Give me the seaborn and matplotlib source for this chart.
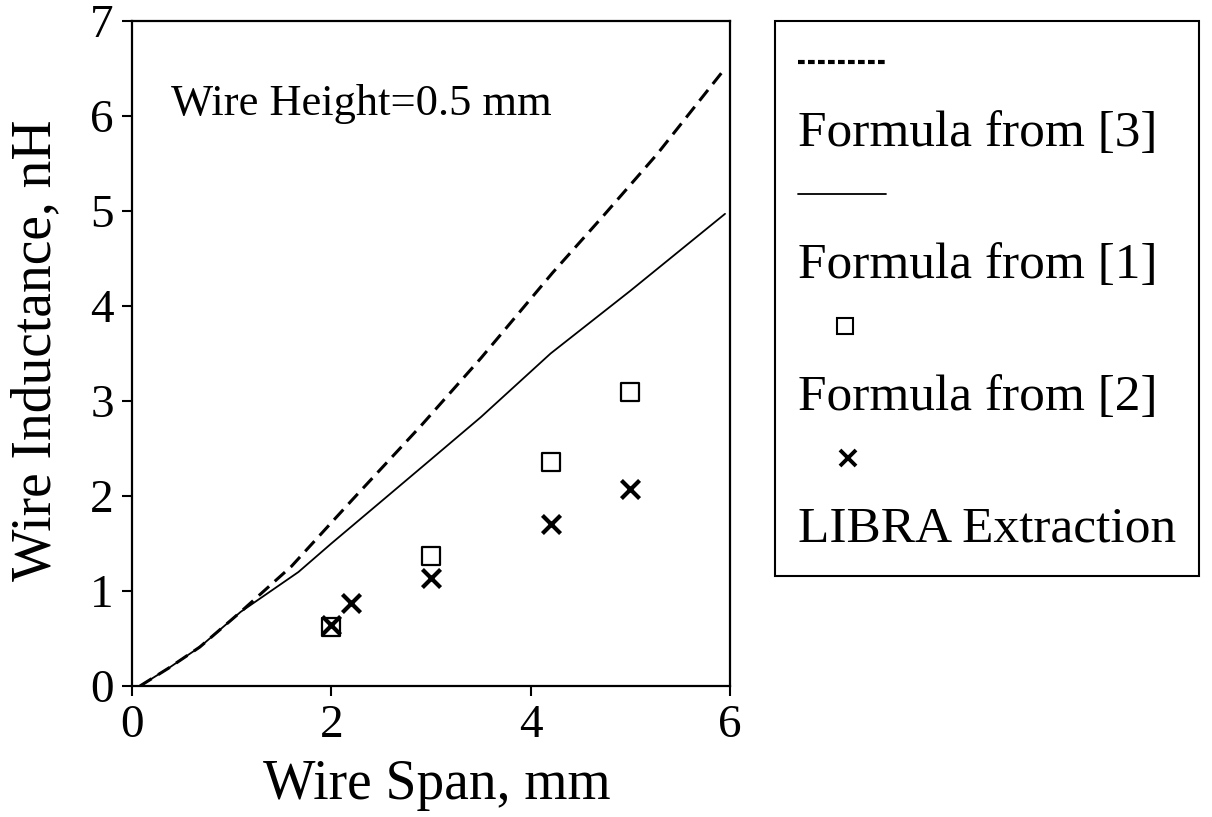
import numpy as np
import pandas as pd
import matplotlib
matplotlib.use("Agg")
import matplotlib.pyplot as plt
import seaborn as sns
from matplotlib.lines import Line2D
from matplotlib.legend_handler import HandlerBase
from matplotlib.font_manager import FontProperties

# ---------------- data ----------------
# Formula from [3] (dashed curve)
f3_span = [0.08, 0.37, 0.68, 1.09, 1.6, 2.21, 2.9, 3.5, 4.22, 4.73, 5.27, 5.95]
f3_ind = [0.0, 0.19, 0.41, 0.78, 1.26, 1.96, 2.74, 3.45, 4.35, 4.95, 5.6, 6.5]
# Formula from [1] (solid curve)
f1_span = [0.08, 0.37, 0.68, 1.09, 1.67, 2.0, 2.52, 2.96, 3.5, 4.2, 5.0, 5.95]
f1_ind = [0.0, 0.19, 0.41, 0.78, 1.2, 1.5, 1.96, 2.35, 2.83, 3.5, 4.16, 4.97]
# Formula from [2] (open squares)
f2_span = [2.0, 3.0, 4.2, 5.0]
f2_ind = [0.62, 1.37, 2.36, 3.09]
# LIBRA Extraction (x marks)
libra_span = [2.0, 2.2, 3.0, 4.2, 5.0]
libra_ind = [0.64, 0.87, 1.14, 1.71, 2.07]

legend_labels = ["Formula from [3]", "Formula from [1]", "Formula from [2]", "LIBRA Extraction"]
x_ticks = [0, 2, 4, 6]
y_ticks = [0, 1, 2, 3, 4, 5, 6, 7]
annotation = "Wire Height=0.5 mm"
x_label = "Wire Span, mm"
y_label = "Wire Inductance, nH"

# ---------------- style ----------------
sns.set_theme(style="ticks")
plt.rcParams["font.family"] = ["Liberation Serif", "DejaVu Serif"]
plt.rcParams["axes.edgecolor"] = "black"
plt.rcParams["xtick.color"] = "black"
plt.rcParams["ytick.color"] = "black"
plt.rcParams["text.color"] = "black"
plt.rcParams["axes.labelcolor"] = "black"

fig = plt.figure(figsize=(12.12, 8.17), dpi=100)
ax = fig.add_axes([132 / 1212, 1 - 686 / 817, (730 - 132) / 1212, (686 - 21) / 817])

df3 = pd.DataFrame({"span": f3_span, "ind": f3_ind})
df1 = pd.DataFrame({"span": f1_span, "ind": f1_ind})
df2 = pd.DataFrame({"span": f2_span, "ind": f2_ind})
dfl = pd.DataFrame({"span": libra_span, "ind": libra_ind})

sns.lineplot(data=df3, x="span", y="ind", ax=ax, color="black", linewidth=2.2,
             linestyle=(0, (4.5, 2.5)), sort=False, estimator=None)
sns.lineplot(data=df1, x="span", y="ind", ax=ax, color="black", linewidth=1.3,
             sort=False, estimator=None)
sns.scatterplot(data=df2, x="span", y="ind", ax=ax, marker="s", s=150,
                facecolor="white", edgecolor="black", linewidth=1.6, zorder=3)
sns.scatterplot(data=dfl, x="span", y="ind", ax=ax, marker="x", s=170,
                color="black", linewidth=3.0, zorder=4)

ax.set_xlim(0, 6)
ax.set_ylim(0, 7)
ax.set_xticks(x_ticks)
ax.set_yticks(y_ticks)
ax.tick_params(axis="both", direction="out", length=7, width=1.5, pad=6,
               labelsize=34, top=False, right=False)
for sp in ax.spines.values():
    sp.set_linewidth(1.6)
    sp.set_color("black")

ax.set_xlabel(x_label, fontsize=40)
ax.set_ylabel(y_label, fontsize=40)
ax.xaxis.set_label_coords(0.51, -0.11)
ax.yaxis.set_label_coords(-0.117, 0.505)

ax.text(0.065, 0.875, annotation, transform=ax.transAxes, fontsize=32,
        ha="left", va="center")


# ---------------- legend (handle on its own row above each label) ----------------
class SwatchHandler(HandlerBase):
    def __init__(self, length_pt, marker_offset_pt, **kw):
        super().__init__(**kw)
        self.length_pt = length_pt
        self.marker_offset_pt = marker_offset_pt

    def create_artists(self, legend, orig_handle, xdescent, ydescent, width,
                       height, fontsize, trans):
        y = (height - ydescent) / 2.0
        x0 = -xdescent
        ls = orig_handle.get_linestyle()
        if ls not in ("None", "none", "", " "):
            art = Line2D([x0, x0 + self.length_pt], [y, y])
        else:
            art = Line2D([x0 + self.marker_offset_pt], [y])
        self.update_prop(art, orig_handle, legend)
        art.set_transform(trans)
        return [art]


h3 = Line2D([], [], color="black", linewidth=3.0, linestyle=(0, (1.6, 0.8)))
h1 = Line2D([], [], color="black", linewidth=1.3)
hsq = Line2D([], [], linestyle="none", marker="s", markersize=11,
             markerfacecolor="white", markeredgecolor="black", markeredgewidth=1.5)
hx = Line2D([], [], linestyle="none", marker="x", markersize=12,
            color="black", markeredgewidth=2.8)
blanks = [Line2D([], [], linestyle="none") for _ in range(4)]

handles = [h3, blanks[0], h1, blanks[1], hsq, blanks[2], hx, blanks[3]]
labels = ["", legend_labels[0], "", legend_labels[1], "", legend_labels[2], "", legend_labels[3]]
handler_map = {
    h3: SwatchHandler(63, 34),
    h1: SwatchHandler(63, 34),
    hsq: SwatchHandler(63, 34),
    hx: SwatchHandler(63, 36),
}

leg = fig.legend(handles, labels, loc="upper left",
                 bbox_to_anchor=(775 / 1212, 1 - 21 / 817),
                 bbox_transform=fig.transFigure,
                 frameon=True, fancybox=False, framealpha=1,
                 edgecolor="black", borderpad=0.45, labelspacing=0.37,
                 handlelength=0, handletextpad=0, borderaxespad=0,
                 prop=FontProperties(family="Liberation Serif", size=37),
                 handler_map=handler_map)
leg.get_frame().set_linewidth(1.5)

fig.savefig("out.png", dpi=100, facecolor="white")
